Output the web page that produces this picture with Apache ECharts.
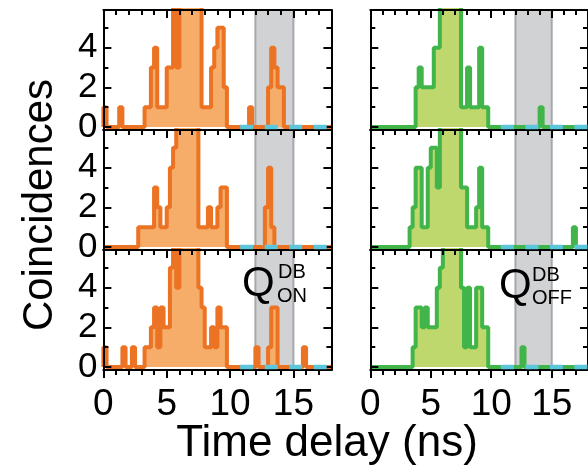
<!DOCTYPE html>
<html><head><meta charset="utf-8">
<script src="https://cdn.jsdelivr.net/npm/echarts@6/dist/echarts.min.js"></script>
<style>html,body{margin:0;padding:0;background:#fff}#c{width:588px;height:468px}</style>
</head><body><div id="c"></div>
<script>
// ---- data ----
const binWidth = 0.25;          // ns
const xMin = 0, xMax = 18;
const yMin = -0.15, yMax = 5.9;
const xTickLabels = [0, 5, 10, 15];
const xMinorTicks = [1,2,3,4,6,7,8,9,11,12,13,14,16,17];
const yTickLabels = [0, 2, 4];
const yMinorTicks = [1, 3, 5];
const shadeRange = [12, 15];
const dashRange = [10.8, 18];
const xTitle = 'Time delay (ns)';
const yTitle = 'Coincidences';

// counts per 0.25 ns bin (72 bins, 0..18 ns); 9 = off scale
const onTop = [
 1,0,0,0,0,1,0,0, 0,0,0,0,0,1,1,3, 4,1,1,1,3,3,9,3, 9,9,9,9,9,9,9,1,
 1,1,3,4,5,5,2,0, 0,0,0,0,0,0,1,0, 0,0,0,0,2,4,3,2, 2,0,0,0,0,0,0,0,
 0,0,0,0,0,0,0,0];
const onMid = [
 0,0,0,0,0,0,0,0, 0,0,0,1,1,1,1,1, 3,2,1,1,2,4,5,9, 9,9,9,9,9,9,1,1,
 1,2,1,1,2,3,3,0, 0,0,0,0,0,0,0,0, 0,0,0,2,4,1,0,0, 0,0,0,0,0,0,0,0,
 0,0,0,0,0,0,0,0];
const onBot = [
 1,0,0,0,0,0,1,0, 0,1,0,0,0,1,1,2, 3,1,3,2,2,5,9,4, 9,9,9,9,9,9,4,3,
 1,1,2,1,3,2,2,0, 0,0,0,0,0,0,0,0, 1,0,0,0,1,3,3,0, 0,0,0,0,0,0,0,1,
 0,0,0,0,0,0,0,0];
const offTop = [
 0,0,0,0,0,0,0,0, 0,0,0,0,0,0,0,2, 3,2,2,2,2,4,4,9, 9,9,9,9,9,9,1,1,
 3,1,1,1,4,1,1,0, 0,0,0,0,0,0,0,0, 0,0,0,0,0,0,0,0, 1,0,0,0,0,0,0,0,
 0,0,0,0,0,0,0,0];
const offMid = [
 0,0,0,0,0,0,0,0, 0,0,0,0,0,1,2,4, 4,1,1,4,5,5,3,9, 9,9,9,9,9,9,3,3,
 1,1,1,2,4,1,1,0, 0,0,0,0,0,0,0,0, 0,0,0,0,0,0,0,0, 0,0,0,0,0,0,0,0,
 0,0,0,1,0,0,0,0];
const offBot = [
 0,0,0,0,0,0,0,0, 0,0,0,0,0,0,1,3, 3,2,3,2,2,2,4,5, 9,9,9,9,9,9,4,1,
 4,1,1,4,4,2,2,0, 0,0,0,0,0,0,0,0, 0,0,1,0,0,0,0,0, 0,0,0,0,0,0,0,0,
 0,0,0,0,0,0,0,0];

// ---- layout / style ----
const FONT = '"Liberation Sans", Arial, Helvetica, sans-serif';
const rowTop = [10, 130, 250];
const colLeft = [103.4, 370.3];
const panelW = 228, panelH = 120;
const colStyle = [
  {line: '#ec7324', area: '#f6ad69'},
  {line: '#42b54a', area: '#bed86d'}
];
const panels = [
  {r:0, c:0, d:onTop}, {r:1, c:0, d:onMid}, {r:2, c:0, d:onBot},
  {r:0, c:1, d:offTop}, {r:1, c:1, d:offMid}, {r:2, c:1, d:offBot}
];

function histPoints(counts) {
  const pts = [[xMin, 0]];
  counts.forEach((v, i) => pts.push([xMin + i * binWidth, v]));
  pts.push([xMin + counts.length * binWidth, 0]);
  return pts;
}

const black = {color: '#000', width: 2};
const grids = [], xAxes = [], yAxes = [], series = [];

panels.forEach((p, i) => {
  const g = {left: colLeft[p.c], top: rowTop[p.r], width: panelW, height: panelH};
  grids.push(Object.assign({}, g), Object.assign({}, g));
  const ga = 2 * i, gb = 2 * i + 1;
  const isBottom = p.r === 2;
  const baseX = {type: 'value', min: xMin, max: xMax, z: 3, splitLine: {show: false}};
  const baseY = {type: 'value', min: yMin, max: yMax, z: 3, splitLine: {show: false}};
  xAxes.push(Object.assign({}, baseX, {
    gridIndex: ga, position: 'bottom',
    axisLine: {show: true, onZero: false, lineStyle: black},
    axisTick: isBottom ? {show: true, inside: false, length: 5, customValues: xMinorTicks, lineStyle: black} : {show: false},
    axisLabel: isBottom ? {show: true, customValues: xTickLabels, fontSize: 37, color: '#000', fontFamily: FONT, margin: 16} : {show: false}
  }));
  xAxes.push(Object.assign({}, baseX, {
    gridIndex: ga, position: 'top',
    axisLine: {show: true, onZero: false, lineStyle: black},
    axisTick: {show: true, inside: true, length: 5, customValues: xMinorTicks, lineStyle: black},
    axisLabel: {show: false}
  }));
  xAxes.push(Object.assign({}, baseX, {
    gridIndex: gb, position: 'bottom',
    axisLine: {show: false, onZero: false},
    axisTick: isBottom ? {show: true, inside: false, length: 8, customValues: xTickLabels, lineStyle: black} : {show: false},
    axisLabel: {show: false}
  }));
  xAxes.push(Object.assign({}, baseX, {
    gridIndex: gb, position: 'top',
    axisLine: {show: false, onZero: false},
    axisTick: {show: true, inside: true, length: 8, customValues: xTickLabels, lineStyle: black},
    axisLabel: {show: false}
  }));
  yAxes.push(Object.assign({}, baseY, {
    gridIndex: ga, position: 'left',
    axisLine: {show: true, onZero: false, lineStyle: black},
    axisTick: {show: true, inside: true, length: 5, customValues: yMinorTicks, lineStyle: black},
    axisLabel: p.c === 0 ? {show: true, customValues: yTickLabels, fontSize: 35, color: '#000', fontFamily: FONT, margin: 6} : {show: false}
  }));
  yAxes.push(Object.assign({}, baseY, {
    gridIndex: ga, position: 'right',
    axisLine: {show: true, onZero: false, lineStyle: black},
    axisTick: {show: true, inside: true, length: 5, customValues: yMinorTicks, lineStyle: black},
    axisLabel: {show: false}
  }));
  yAxes.push(Object.assign({}, baseY, {
    gridIndex: gb, position: 'left',
    axisLine: {show: false, onZero: false},
    axisTick: {show: true, inside: true, length: 8, customValues: yTickLabels, lineStyle: black},
    axisLabel: {show: false}
  }));
  yAxes.push(Object.assign({}, baseY, {
    gridIndex: gb, position: 'right',
    axisLine: {show: false, onZero: false},
    axisTick: {show: true, inside: true, length: 8, customValues: yTickLabels, lineStyle: black},
    axisLabel: {show: false}
  }));
  const st = colStyle[p.c];
  series.push({
    type: 'line', xAxisIndex: 4 * i, yAxisIndex: 4 * i,
    data: histPoints(p.d), step: 'end', symbol: 'none', showSymbol: false,
    clip: true, z: 2,
    lineStyle: {color: st.line, width: 4},
    areaStyle: {color: st.area, opacity: 1},
    markArea: {
      silent: true,
      itemStyle: {color: '#d1d2d4', borderColor: '#a6a8ab', borderWidth: 2},
      data: [[{xAxis: shadeRange[0]}, {xAxis: shadeRange[1]}]]
    }
  });
  series.push({
    type: 'line', xAxisIndex: 4 * i, yAxisIndex: 4 * i,
    data: [[dashRange[0], 0], [dashRange[1], 0]], symbol: 'none', showSymbol: false,
    z: 10, zlevel: 1, clip: false,
    lineStyle: {color: '#5cc6dc', width: 4.5, type: [13, 11.5], dashOffset: 0, cap: 'butt'}
  });
});

const txt = (x, y, text, size) => ({
  type: 'text', x: x, y: y, silent: true, z: 100,
  style: {text: text, font: size + 'px ' + FONT, fill: '#000', align: 'left', verticalAlign: 'middle'}
});

const graphic = [
  {type: 'text', x: 40, y: 205, rotation: Math.PI / 2, silent: true, z: 100,
   style: {text: yTitle, font: '42px ' + FONT, fill: '#000', align: 'center', verticalAlign: 'middle'}},
  {type: 'text', x: 327, y: 444, silent: true, z: 100,
   style: {text: xTitle, font: '44px ' + FONT, fill: '#000', align: 'center', verticalAlign: 'middle'}},
  txt(242, 284, 'Q', 42), txt(278, 272, 'DB', 20), txt(277, 296, 'ON', 20),
  txt(499, 286, 'Q', 42), txt(532, 275, 'DB', 20), txt(532, 298, 'OFF', 20)
];

const chart = echarts.init(document.getElementById('c'), null, {renderer: 'canvas', width: 588, height: 468});
chart.setOption({
  animation: false,
  backgroundColor: '#fff',
  grid: grids, xAxis: xAxes, yAxis: yAxes, series: series, graphic: graphic
});
</script></body></html>
